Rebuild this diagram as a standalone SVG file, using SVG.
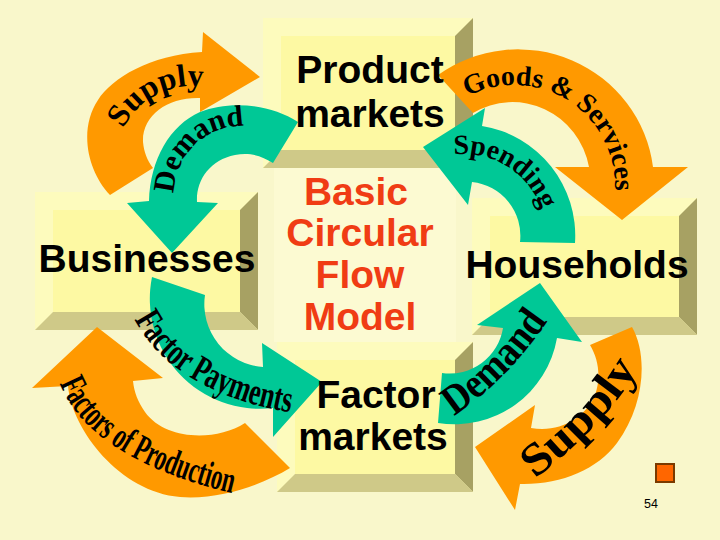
<svg xmlns="http://www.w3.org/2000/svg" width="720" height="540" viewBox="0 0 720 540">
<style>
.bg{fill:#f9f7cb}
.btl{fill:#fdfbbd}
.br{fill:#a7a163}
.bb{fill:#cfc988}
.face{fill:#fdf9a3}
.orange{fill:#ff9900}
.green{fill:#00c896}
.lbl{font-family:"Liberation Sans",Arial,sans-serif;font-weight:bold;font-size:39px;fill:#000;text-anchor:middle}
.title{font-family:"Liberation Sans",Arial,sans-serif;font-weight:bold;font-size:39px;fill:#f03c14;text-anchor:middle}
.wa{font-family:"Liberation Serif","Times New Roman",serif;font-weight:bold;fill:#000}
</style>
<defs>
<path id="tpSupplyTL" d="M 116.2 149.6 A 77 77 0 0 1 224.5 93.2"/>
<path id="tpDemandTL" d="M 176 210.4 A 68 68 0 0 1 260.7 128.6"/>
<path id="tpGoods" d="M 445.8 111.5 A 101 101 0 0 1 610.3 216.4"/>
<path id="tpSpending" d="M 425.5 163.6 A 82 82 0 0 1 545.9 238.9"/>
<path id="tpFP" d="M 126 298 C 142 353, 198 399, 300 414"/>
<path id="tpFoP" d="M 56 373 C 73 432, 139 473, 245 496"/>
<path id="tpDemandBR" d="M 454 416 Q 510 378 551 316"/>
<path id="tpSupplyBR" d="M 535 479 Q 610 420 639 367"/>
</defs>
<rect class="bg" x="0" y="0" width="720" height="540"/>
<rect x="274" y="168" width="182" height="174" fill="#fcfad2"/>

<g id="node-product-markets">
<rect class="btl" x="263" y="18" width="210" height="150"/>
<polygon class="br" points="473,18 473,168 455,150 455,36"/>
<polygon class="bb" points="263,168 473,168 455,150 281,150"/>
<rect class="face" x="281" y="36" width="174" height="114"/>
</g>
<g id="node-businesses">
<rect class="btl" x="35" y="192" width="223" height="138"/>
<polygon class="br" points="258,192 258,330 240,312 240,210"/>
<polygon class="bb" points="35,330 258,330 240,312 53,312"/>
<rect class="face" x="53" y="210" width="187" height="102"/>
</g>
<g id="node-households">
<rect class="btl" x="472" y="198" width="225" height="137"/>
<polygon class="br" points="697,198 697,335 679,317 679,216"/>
<polygon class="bb" points="472,335 697,335 679,317 490,317"/>
<rect class="face" x="490" y="216" width="189" height="101"/>
</g>
<g id="node-factor-markets">
<rect class="btl" x="277" y="342" width="196" height="150"/>
<polygon class="br" points="473,342 473,492 455,474 455,360"/>
<polygon class="bb" points="277,492 473,492 455,474 295,474"/>
<rect class="face" x="295" y="360" width="160" height="114"/>
</g>

<g id="connectors">
<g id="arrow-supply-businesses">
<path class="orange" d="M 110 195 C 88 172, 78 130, 98 100 C 112 78, 150 55, 202 52 L 203 32 L 260 77 L 200 112 L 200 98 C 168 97, 142 115, 143 142 C 144 152, 147 160, 153 168 Z"/>
<text class="wa" font-size="32"><textPath href="#tpSupplyTL" startOffset="50%" text-anchor="middle">Supply</textPath></text>
</g>
<g id="arrow-demand-businesses">
<path class="green" d="M 298 122 C 270 104, 230 100, 200 112 C 170 125, 150 160, 149 201 L 127 203 L 172 253 L 218 203 L 197 202 C 196 180, 210 160, 235 155 C 250 152, 262 156, 273 163 Z"/>
<text class="wa" font-size="30"><textPath href="#tpDemandTL" startOffset="50%" text-anchor="middle">Demand</textPath></text>
</g>
<g id="arrow-goods-services">
<path class="orange" d="M 438 75 A 136 134 0 0 1 653 167 L 688 167 L 622 220 L 555 167 L 589 167 A 78 80 0 0 0 473 113 Z"/>
<text class="wa" font-size="28"><textPath href="#tpGoods" startOffset="50%" text-anchor="middle">Goods &amp; Services</textPath></text>
</g>
<g id="arrow-spending">
<path class="green" d="M 575 243 A 111 111 0 0 0 482 126 L 485 108 L 423 147 L 468 205 L 472 182 A 54 54 0 0 1 520 242 Z"/>
<text class="wa" font-size="28"><textPath href="#tpSpending" startOffset="50%" text-anchor="middle">Spending</textPath></text>
</g>
<g id="arrow-factors-of-production">
<path class="orange" d="M 97 327 L 163 378 L 133 381 C 134 392, 138 402, 145 412 C 165 440, 215 442, 245 423 L 290 468 C 262 485, 220 500, 180 497 C 120 492, 72 430, 68 386 L 32 388 Z"/>
<text class="wa" font-size="37"><textPath href="#tpFoP" startOffset="11" textLength="212" lengthAdjust="spacingAndGlyphs">Factors of Production</textPath></text>
</g>
<g id="arrow-factor-payments">
<path class="green" d="M 152 277 A 110 110 0 0 0 273 408 L 273 437 L 322 382 L 262 343 L 263 367 A 63 63 0 0 1 205 295 Z"/>
<text class="wa" font-size="38"><textPath href="#tpFP" startOffset="23" textLength="188" lengthAdjust="spacingAndGlyphs">Factor Payments</textPath></text>
</g>
<g id="arrow-supply-households">
<path class="orange" d="M 632 327 C 648 355, 645 405, 617 443 C 597 470, 560 485, 520 484 L 515 510 L 475 447 L 535 405 L 531 428 C 560 433, 585 418, 595 395 C 601 378, 599 360, 590 345 Z"/>
<text class="wa" font-size="46"><textPath href="#tpSupplyBR" startOffset="0" textLength="152" lengthAdjust="spacingAndGlyphs">Supply</textPath></text>
</g>
<g id="arrow-demand-households">
<path class="green" d="M 438 423 A 104 104 0 0 0 557 338 L 582 342 L 540 283 L 477 325 L 503 328 A 54 54 0 0 1 442 373 Z"/>
<text class="wa" font-size="42"><textPath href="#tpDemandBR" startOffset="0" textLength="134" lengthAdjust="spacingAndGlyphs">Demand</textPath></text>
</g>
</g>

<g id="labels">
<text class="lbl" x="370" y="83">Product</text>
<text class="lbl" x="370" y="127">markets</text>
<text class="lbl" x="147" y="272">Businesses</text>
<text class="lbl" x="577" y="278">Households</text>
<text class="lbl" x="376" y="408">Factor</text>
<text class="lbl" x="373" y="450">markets</text>
</g>
<g id="title">
<text class="title" x="356" y="205">Basic</text>
<text class="title" x="360" y="246">Circular</text>
<text class="title" x="360" y="288">Flow</text>
<text class="title" x="360" y="330">Model</text>
</g>
<g id="page-marker">
<rect x="656" y="464" width="18" height="18" fill="#ff6600" stroke="#7a3a00" stroke-width="2"/>
<text x="644" y="508" font-family="'Liberation Sans',Arial,sans-serif" font-size="12.5" fill="#000">54</text>
</g>
</svg>
